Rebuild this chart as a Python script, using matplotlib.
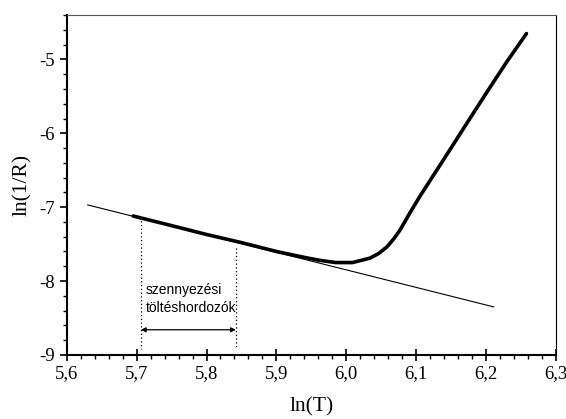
import matplotlib.pyplot as plt
from matplotlib.ticker import MultipleLocator, FuncFormatter

# measured conductance curve, ln(1/R) vs ln(T)
ln_t = [5.695, 5.75, 5.80, 5.85, 5.90, 5.94, 5.962, 5.985, 6.009, 6.034, 6.046,
        6.058, 6.068, 6.077, 6.091, 6.105, 6.120, 6.15, 6.177, 6.205, 6.23, 6.258]
ln_inv_r = [-7.12, -7.25, -7.37, -7.48, -7.60, -7.68, -7.72, -7.75, -7.75, -7.69, -7.63,
            -7.54, -7.43, -7.31, -7.08, -6.86, -6.64, -6.20, -5.80, -5.39, -5.03, -4.65]

# fitted straight line (impurity region)
fit_x = [5.63, 6.211]
fit_y = [-6.97, -8.35]

# range marks of the impurity carriers
range_x = [5.706, 5.842]
range_top = [-7.13, -7.55]
range_bottom = -8.92
arrow_y = -8.66

plt.rcParams['font.family'] = 'Liberation Serif'

fig = plt.figure(figsize=(5.66, 4.19), dpi=100)
ax = fig.add_axes([0.118, 0.153, 0.864, 0.811])

ax.plot(fit_x, fit_y, color='black', lw=0.8)
ax.plot(ln_t, ln_inv_r, color='black', lw=2.6, solid_capstyle='round',
        solid_joinstyle='round')

for x, top in zip(range_x, range_top):
    ax.plot([x, x], [top, range_bottom], color='black', lw=0.9, ls=(0, (1, 2)))
ax.annotate('', xy=(range_x[0], arrow_y), xytext=(range_x[1], arrow_y),
            arrowprops=dict(arrowstyle='<|-|>', color='black', lw=0.9,
                            mutation_scale=7, shrinkA=0, shrinkB=0))
ax.text(5.713, -8.12, 'szennyezési', family='Liberation Sans', fontsize=10, va='center')
ax.text(5.713, -8.37, 'töltéshordozók', family='Liberation Sans', fontsize=10, va='center')

ax.set_xlim(5.6, 6.3)
ax.set_ylim(-9, -4.4)
ax.xaxis.set_major_locator(MultipleLocator(0.1))
ax.xaxis.set_minor_locator(MultipleLocator(0.02))
ax.yaxis.set_major_locator(MultipleLocator(1))
ax.yaxis.set_minor_locator(MultipleLocator(0.2))
ax.xaxis.set_major_formatter(FuncFormatter(lambda v, p: f'{v:.1f}'.replace('.', ',')))
ax.yaxis.set_major_formatter(FuncFormatter(lambda v, p: f'{v:.0f}'))

ax.tick_params(axis='x', which='major', direction='inout', length=8, width=1.2,
               labelsize=13.5, pad=3)
ax.tick_params(axis='y', which='major', direction='out', length=5, width=1.2,
               labelsize=13.5)
ax.tick_params(which='minor', direction='out', length=3, width=1.0)
ax.tick_params(top=False, right=False)
ax.spines['left'].set_linewidth(1.5)
ax.spines['bottom'].set_linewidth(1.5)
ax.spines['top'].set_linewidth(0.8)
ax.spines['top'].set_color('#555555')
ax.spines['right'].set_linewidth(0.8)

ax.set_xlabel('ln(T)', fontsize=15.5, labelpad=11)
ax.set_ylabel('ln(1/R)', fontsize=15.5, labelpad=5)

fig.savefig('out.png', dpi=100)
